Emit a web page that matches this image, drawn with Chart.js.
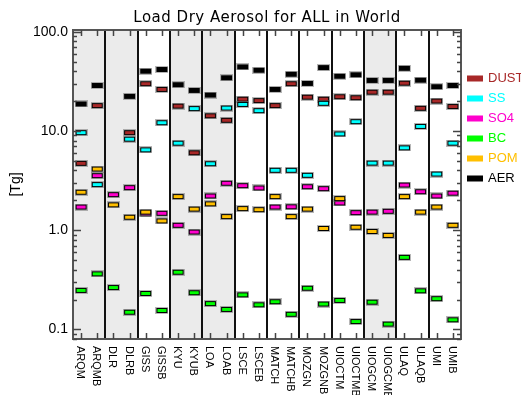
<!DOCTYPE html>
<html><head><meta charset="utf-8">
<script src="https://cdn.jsdelivr.net/npm/chart.js@4.4.1/dist/chart.umd.min.js"></script>
<style>html,body{margin:0;padding:0;background:#fff;}canvas{display:block;}</style>
</head><body>
<canvas id="c" width="521" height="395"></canvas>
<script>
const categories = ['ARQM','ARQMB','DLR','DLRB','GISS','GISSB','KYU','KYUB','LOA','LOAB','LSCE','LSCEB','MATCH','MATCHB','MOZGN','MOZGNB','UIOCTM','UIOCTMB','UIOGCM','UIOGCMB','ULAQ','ULAQB','UMI','UMIB'];
const dust = [4.71,18.0,null,9.6,29.9,26.2,17.8,6.02,14.2,12.8,20.9,20.2,18.0,29.9,21.9,20.9,22.1,21.6,24.6,24.6,30.3,16.9,20.0,17.6];
const ss   = [9.6,2.88,null,8.26,6.45,12.1,7.53,16.8,4.67,17.0,18.5,16.0,4.01,4.01,3.57,19.0,9.33,12.4,4.74,4.74,6.75,11.1,3.68,7.53];
const so4  = [1.71,3.54,2.28,2.68,1.46,1.48,1.12,0.957,2.21,2.97,2.81,2.66,1.71,1.72,2.74,2.62,1.88,1.50,1.52,1.55,2.85,2.44,2.21,2.36];
const bc   = [0.247,0.363,0.264,0.149,0.230,0.155,0.377,0.234,0.182,0.159,0.223,0.177,0.190,0.142,0.260,0.180,0.196,0.120,0.188,0.113,0.532,0.245,0.204,0.125];
const pom  = [2.41,4.13,1.80,1.35,1.52,1.24,2.18,1.63,1.84,1.37,1.65,1.61,2.18,1.37,1.63,1.04,2.08,1.07,0.97,0.885,2.18,1.52,1.71,1.12];
const aer  = [18.7,28.7,null,22.3,40.0,41.6,29.2,25.6,23.0,34.3,44.2,40.9,26.2,37.3,30.1,43.5,35.6,36.8,32.3,32.3,42.8,32.5,27.9,28.7];
const seriesNames = ['DUST','SS','SO4','BC','POM','AER'];
const yTicks = [0.1, 1, 10, 100];
const shadedPairs = ['ARQM','DLR','KYU','LOA','UIOGCM'];
const chartTitle = 'Load Dry Aerosol for ALL in World';

const colors = {DUST:'#A82828', SS:'#00FFFF', SO4:'#FF00CC', BC:'#00FF00', POM:'#FFBF00', AER:'#000000'};
const seriesData = {DUST:dust, SS:ss, SO4:so4, BC:bc, POM:pom, AER:aer};

function marker(color){
  const c = document.createElement('canvas');
  c.width = 13; c.height = 7;
  const g = c.getContext('2d');
  g.fillStyle = 'rgba(110,110,110,0.5)'; g.fillRect(0,0,13,7);
  g.fillStyle = '#000'; g.fillRect(1,1,11,5);
  g.fillStyle = color; g.fillRect(2,2,9,3);
  return c;
}

const FONT = "'Liberation Sans', Arial, sans-serif";

const deco = {
  id: 'deco',
  beforeDatasetsDraw(chart){
    const {ctx, chartArea:a, scales:{x}} = chart;
    ctx.save();
    const half = (x.getPixelForValue(1) - x.getPixelForValue(0)) / 2;
    ctx.fillStyle = '#EBEBEB';
    shadedPairs.forEach(n => {
      const i = categories.indexOf(n);
      const x0 = x.getPixelForValue(i) - half;
      const x1 = x.getPixelForValue(i+1) + half;
      ctx.fillRect(x0, a.top, x1 - x0, a.bottom - a.top);
    });
    ctx.strokeStyle = '#111'; ctx.lineWidth = 2;
    for (let i = 2; i < categories.length; i += 2) {
      const xp = Math.round((x.getPixelForValue(i-1) + x.getPixelForValue(i)) / 2);
      ctx.beginPath(); ctx.moveTo(xp, a.top); ctx.lineTo(xp, a.bottom); ctx.stroke();
    }
    ctx.restore();
  },
  afterDraw(chart){
    const {ctx, chartArea:a, scales:{x, y}} = chart;
    ctx.save();
    ctx.strokeStyle = '#555'; ctx.lineWidth = 2;
    ctx.strokeRect(a.left, a.top, a.right - a.left, a.bottom - a.top);
    ctx.lineWidth = 1.5; ctx.strokeStyle = '#444';
    for (let d = 0.01; d <= 100; d *= 10) {
      for (let m = 1; m <= 9; m++) {
        const v = d * m;
        if (v < y.min || v > y.max) continue;
        const yp = Math.round(y.getPixelForValue(v)) + 0.5;
        const len = m === 1 ? 8 : 4;
        ctx.beginPath();
        ctx.moveTo(a.left, yp); ctx.lineTo(a.left + len, yp);
        ctx.moveTo(a.right, yp); ctx.lineTo(a.right - len, yp);
        ctx.stroke();
      }
    }
    categories.forEach((c, i) => {
      const xp = Math.round(x.getPixelForValue(i)) + 0.5;
      ctx.beginPath();
      ctx.moveTo(xp, a.top); ctx.lineTo(xp, a.top + 6);
      ctx.moveTo(xp, a.bottom); ctx.lineTo(xp, a.bottom - 6);
      ctx.stroke();
    });
    ctx.fillStyle = '#000';
    ctx.font = '11px ' + FONT;
    ctx.textAlign = 'left'; ctx.textBaseline = 'middle';
    categories.forEach((c, i) => {
      ctx.save();
      ctx.translate(x.getPixelForValue(i) - 1, a.bottom + 7);
      ctx.rotate(Math.PI / 2);
      ctx.fillText(c, 0, 0);
      ctx.restore();
    });
    ctx.font = "15px 'DejaVu Sans', sans-serif";
    ctx.letterSpacing = '0.5px';
    ctx.textAlign = 'center'; ctx.textBaseline = 'middle';
    ctx.fillText(chartTitle, (a.left + a.right) / 2, 18);
    ctx.letterSpacing = '0px';
    ctx.font = '13px ' + FONT;
    ctx.textAlign = 'left';
    seriesNames.forEach((n, k) => {
      const yc = 78.5 + k * 20;
      ctx.fillStyle = colors[n];
      ctx.fillRect(467, yc - 3, 16, 6);
      ctx.fillText(n, 488, yc);
    });
    ctx.restore();
  }
};

const datasets = seriesNames.map((n, k) => ({
  label: n,
  data: seriesData[n],
  showLine: false,
  pointStyle: marker(colors[n]),
  pointRadius: 5,
  pointHoverRadius: 5,
  order: seriesNames.length - k
}));

new Chart(document.getElementById('c'), {
  type: 'line',
  data: { labels: categories, datasets },
  options: {
    responsive: false, animation: false, devicePixelRatio: 1,
    layout: { padding: { top: 30, right: 60, left: 0, bottom: 0 } },
    plugins: { legend: {display:false}, title: {display:false}, tooltip: {enabled:false} },
    scales: {
      x: { type: 'category', offset: true, grid: {display:false}, border: {display:false},
           ticks: {display:false}, afterFit: s => { s.height = 56; } },
      y: { type: 'logarithmic', min: 0.08, max: 104,
           afterBuildTicks: s => { s.ticks = yTicks.map(v => ({value: v})); },
           ticks: { callback: v => Number(v).toFixed(1), font: {size: 14, family: FONT}, color: '#000', padding: 5 },
           grid: {display:false, drawTicks:false}, border: {display:false},
           title: { display: true, text: '[Tg]', font: {size: 14, family: FONT}, color: '#000', padding: {top: 8, bottom: 0} },
           afterFit: s => { s.width = 73; } }
    }
  },
  plugins: [deco]
});
</script>
</body></html>
